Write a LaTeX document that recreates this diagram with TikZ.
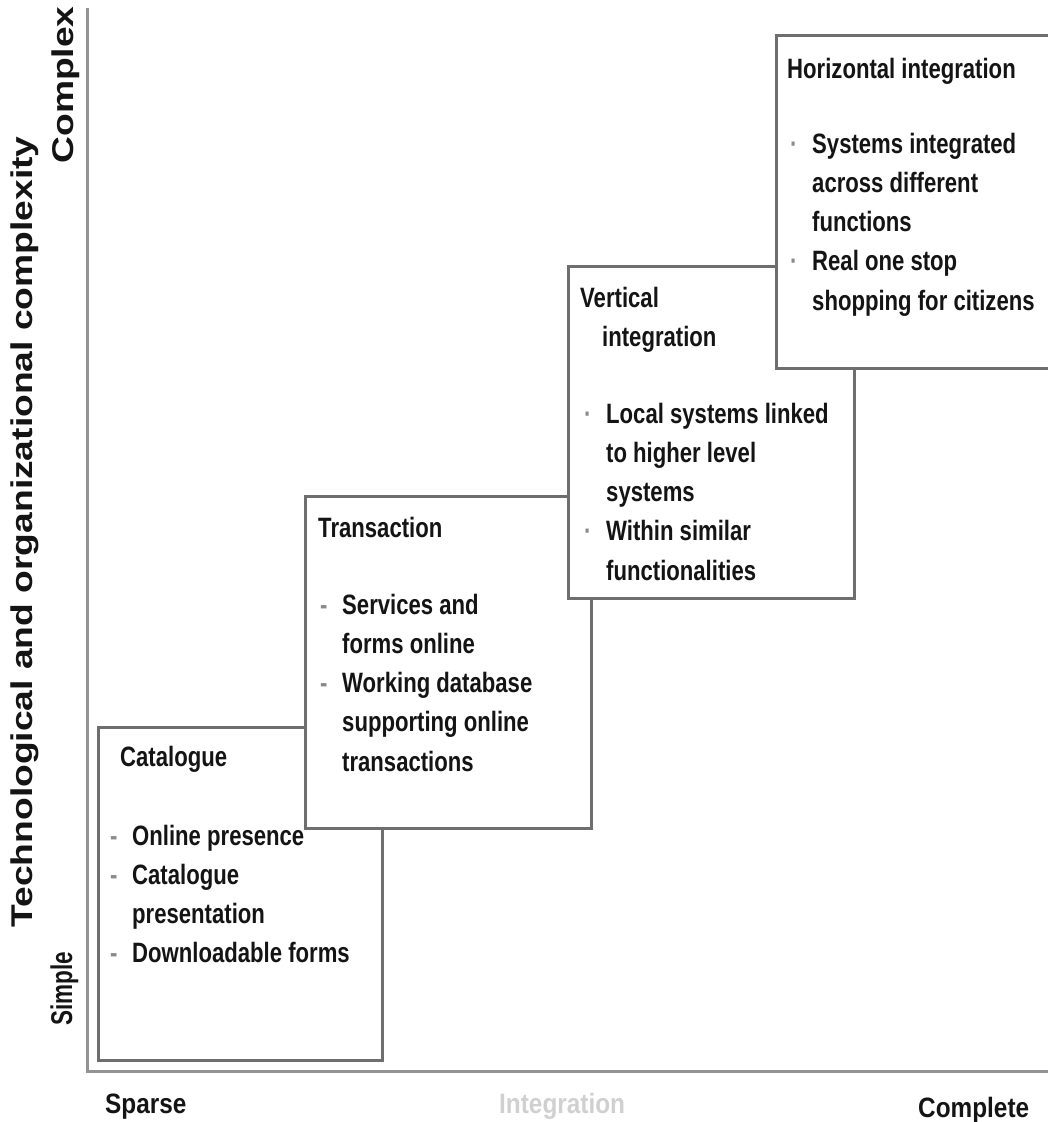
\documentclass[tikz,border=0pt]{standalone}
\usepackage{fontspec}
\setmainfont{Liberation Sans}
\newfontfamily\boxfont{Liberation Sans}[FakeStretch=0.79]
\newfontfamily\axisfont{Liberation Sans}[FakeStretch=1.24]
\newfontfamily\shortaxisfont{Liberation Sans}[FakeStretch=0.75]
\newfontfamily\endfont{Liberation Sans}[FakeStretch=0.87]

\definecolor{ink}{HTML}{141414}
\definecolor{boxgray}{HTML}{6E6E6E}
\definecolor{axisgray}{HTML}{939393}
\definecolor{dotgray}{HTML}{8A8A8A}
\definecolor{fadegray}{HTML}{D0D0D0}

% bullet followed by a fixed indent; continuation lines use \ind
\newcommand\dashb{\makebox[22pt][l]{\textcolor{dotgray}{-}}}
\newcommand\dotb{\makebox[22pt][l]{\textcolor{dotgray}{·}}}
\newcommand\ind{\hspace*{22pt}}
% use the font's own interword space inside aligned nodes
\newcommand\natspace{\spaceskip=0pt \xspaceskip=0pt\relax}

\tikzset{
  stage/.style={draw=boxgray, line width=2.5pt, fill=white, inner sep=0pt, anchor=north west},
  ttl/.style={anchor=base west, inner sep=0pt, text=ink,
              font=\boxfont\bfseries\fontsize{28}{39.3}\selectfont},
  lst/.style={ttl, text width=300pt, align=left},
  axislabel/.style={anchor=base, inner sep=0pt, text=ink, rotate=90,
              font=\axisfont\bfseries\fontsize{30}{36}\selectfont},
  endlabel/.style={anchor=base west, inner sep=0pt, text=ink,
              font=\endfont\bfseries\fontsize{28}{32}\selectfont},
  axisline/.style={draw=axisgray, line width=3pt}
}

\begin{document}
\begin{tikzpicture}[x=1pt, y=-1pt]
\useasboundingbox (0,0) rectangle (1048,1122);

% axes
\coordinate (top) at (87,8);
\coordinate (origin) at (87,1071);
\coordinate (right) at (1050,1071);
\draw[axisline] (top) -- (origin) -- (right);

% axis labels
\node[axislabel] (ylab) at (32,532) {Technological and organizational complexity};
\node[axislabel] (complex) at (73,85) {Complex};
\node[axislabel, font=\shortaxisfont\bfseries\fontsize{30}{36}\selectfont] (simple) at (72,989) {Simple};
\node[endlabel] (sparse) at (105,1113) {Sparse};
\node[endlabel, text=fadegray] (integ) at (499,1113) {Integration};
\node[endlabel] (complete) at (918,1117) {Complete};

% stage 1
\node[stage, minimum width=284pt, minimum height=333pt] (cat) at (97,726) {};
\node[ttl] (catT) at (120,766) {Catalogue};
\node[lst] (catL) at (110,845) {\natspace\dashb Online presence\\
  \dashb Catalogue\\ \ind presentation\\
  \dashb Downloadable forms};

% stage 2
\node[stage, minimum width=286pt, minimum height=332pt] (tra) at (304,495) {};
\node[ttl] (traT) at (318,537) {Transaction};
\node[lst] (traL) at (320,614) {\natspace\dashb Services and\\ \ind forms online\\
  \dashb Working database\\ \ind supporting online\\ \ind transactions};

% stage 3
\node[stage, minimum width=286pt, minimum height=332pt] (ver) at (567,265) {};
\node[lst] (verT) at (580,307) {Vertical\\ \hspace*{22pt}integration};
\node[lst] (verL) at (584,423) {\natspace\dotb Local systems linked\\ \ind to higher level\\ \ind systems\\
  \dotb Within similar\\ \ind functionalities};

% stage 4
\node[stage, minimum width=292pt, minimum height=333pt] (hor) at (775,34) {};
\node[ttl] (horT) at (787,78) {Horizontal integration};
\node[lst] (horL) at (790,153) {\natspace\dotb Systems integrated\\ \ind across different\\ \ind functions\\
  \dotb Real one stop\\ \ind shopping for citizens};

\end{tikzpicture}
\end{document}
